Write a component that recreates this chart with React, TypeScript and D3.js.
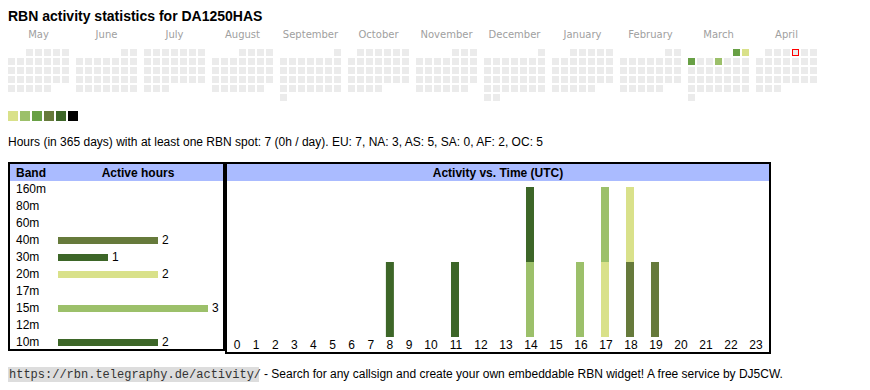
import React from 'react';
import * as d3 from 'd3';

const title = 'RBN activity statistics for DA1250HAS';
const statsLine = 'Hours (in 365 days) with at least one RBN spot: 7 (0h / day). EU: 7, NA: 3, AS: 5, SA: 0, AF: 2, OC: 5';

// calendar months shown (first day of each)
const months = ['2024-05-01', '2024-06-01', '2024-07-01', '2024-08-01', '2024-09-01', '2024-10-01',
  '2024-11-01', '2024-12-01', '2025-01-01', '2025-02-01', '2025-03-01', '2025-04-01'];
const monthNames = ['May', 'June', 'July', 'August', 'September', 'October', 'November', 'December',
  'January', 'February', 'March', 'April'];
const today = '2025-04-04';
// active days -> level (1..6)
const activeDays: [string, number][] = [
  ['2025-03-01', 3],
  ['2025-03-02', 1],
  ['2025-03-03', 3],
  ['2025-03-06', 2],
];
const levelColors = ['#d9e18a', '#9cc06a', '#68a045', '#667a3b', '#3d6628', '#000000'];

const bands = ['160m', '80m', '60m', '40m', '30m', '20m', '17m', '15m', '12m', '10m'];
const bandColors: Record<string, string> = {
  '160m': '#000000', '80m': '#000000', '60m': '#000000',
  '40m': '#667a3b', '30m': '#3d6628', '20m': '#d9e18a',
  '17m': '#68a045', '15m': '#9cc06a', '12m': '#68a045', '10m': '#3d6628',
};
// hours (UTC) in which each band was active
const bandHours: Record<string, number[]> = {
  '160m': [], '80m': [], '60m': [],
  '40m': [18, 19],
  '30m': [8],
  '20m': [17, 18],
  '17m': [],
  '15m': [14, 16, 17],
  '12m': [],
  '10m': [11, 14],
};
const hours = d3.range(24);

const fmt = d3.timeFormat('%Y-%m-%d');
const parse = d3.timeParse('%Y-%m-%d');

export default function App() {
  const levelByDay = new Map(activeDays);

  const monthX = d3.scaleLinear().domain([0, 11]).range([8, 756]);
  const cellStep = 9;
  const cellSize = 7;
  const calTop = 49;

  const cells: { x: number; y: number; key: string }[] = [];
  months.forEach((m, i) => {
    const start = parse(m)!;
    const end = d3.timeMonth.offset(start, 1);
    const firstMonday = d3.timeMonday.floor(start);
    d3.timeDay.range(start, end).forEach(day => {
      const dow = (day.getDay() + 6) % 7;
      const week = d3.timeMonday.count(firstMonday, day);
      cells.push({ x: monthX(i) + dow * cellStep, y: calTop + week * cellStep, key: fmt(day) });
    });
  });

  // left table
  const rowY = d3.scalePoint<string>().domain(bands).range([193, 346]);
  const hoursX = d3.scaleLinear().domain([0, 3]).range([58, 208]);

  // hourly chart
  const hx = d3.scaleLinear().domain([0, 9, 10, 23]).range([237, 409, 430, 755]);
  const hy = d3.scaleLinear().domain([0, 2]).range([337, 187]);
  const table = hours.map(h => {
    const row: Record<string, number> = { hour: h };
    bands.forEach(b => { row[b] = bandHours[b].includes(h) ? 1 : 0; });
    return row;
  });
  const series = d3.stack<Record<string, number>>().keys(bands)(table);

  const sans = 'Arial, "Liberation Sans", sans-serif';

  return (
    <svg width={870} height={390} style={{ position: 'absolute', left: 0, top: 0, background: '#fff' }}
      fontFamily={sans}>
      <text x={8} y={21} fontSize={14} fontWeight="bold" fill="#000">{title}</text>

      {monthNames.map((n, i) => (
        <text key={n} x={monthX(i) + 30.5} y={38} textAnchor="middle" fontSize={10}
          fontFamily='Verdana, "DejaVu Sans", sans-serif' fill="#a0a0a0">{n}</text>
      ))}
      {cells.map(c => {
        const lvl = levelByDay.get(c.key);
        const isToday = c.key === today;
        return (
          <rect key={c.key} x={isToday ? c.x + 0.5 : c.x} y={isToday ? c.y + 0.5 : c.y}
            width={isToday ? cellSize - 1 : cellSize} height={isToday ? cellSize - 1 : cellSize}
            fill={lvl ? levelColors[lvl - 1] : '#ebebeb'}
            stroke={isToday ? '#ff0000' : 'none'} strokeWidth={1} />
        );
      })}
      {levelColors.map((c, i) => (
        <rect key={c} x={8 + i * 12} y={111} width={10} height={10} fill={c} />
      ))}

      <text x={8} y={146} fontSize={12} textLength={535} lengthAdjust="spacing" fill="#000">{statsLine}</text>

      {/* left table */}
      <rect x={9} y={163} width={215} height={187} fill="#fff" stroke="#000" strokeWidth={2} />
      <rect x={10} y={164} width={213} height={17} fill="#aabbff" />
      <text x={16} y={177} fontSize={12} fontWeight="bold">Band</text>
      <text x={138} y={177} fontSize={12} fontWeight="bold" textAnchor="middle">Active hours</text>
      {bands.map(b => {
        const v = bandHours[b].length;
        const y = rowY(b)!;
        return (
          <g key={b}>
            <text x={16} y={y} fontSize={12}>{b}</text>
            {v > 0 && (
              <>
                <rect x={hoursX(0)} y={y - 7} width={hoursX(v) - hoursX(0)} height={7} fill={bandColors[b]} />
                <text x={hoursX(v) + 4} y={y} fontSize={12}>{v}</text>
              </>
            )}
          </g>
        );
      })}

      {/* hourly chart */}
      <rect x={226} y={163} width={544} height={190} fill="#fff" stroke="#000" strokeWidth={2} />
      <rect x={227} y={164} width={542} height={17} fill="#aabbff" />
      <text x={498} y={177} fontSize={12} fontWeight="bold" textAnchor="middle">Activity vs. Time (UTC)</text>
      {series.map(s => (
        <g key={s.key} fill={bandColors[s.key]}>
          {s.filter(d => d[1] > d[0]).map(d => (
            <rect key={d.data.hour} x={hx(d.data.hour) - 4} y={hy(d[1])} width={8}
              height={hy(d[0]) - hy(d[1])} />
          ))}
        </g>
      ))}
      {hours.map(h => (
        <text key={h} x={hx(h) + (h >= 10 ? 1 : 0)} y={349} fontSize={12} textAnchor="middle">{h}</text>
      ))}

      {/* footer */}
      <rect x={8} y={367} width={251} height={15} fill="#dddddd" />
      <text x={9} y={378} fontSize={12} fontFamily='"Courier New", "Liberation Mono", monospace' fill="#333">
        https://rbn.telegraphy.de/activity/
      </text>
      <text x={264} y={378} fontSize={12}>
        - Search for any callsign and create your own embeddable RBN widget! A free service by DJ5CW.
      </text>
    </svg>
  );
}
